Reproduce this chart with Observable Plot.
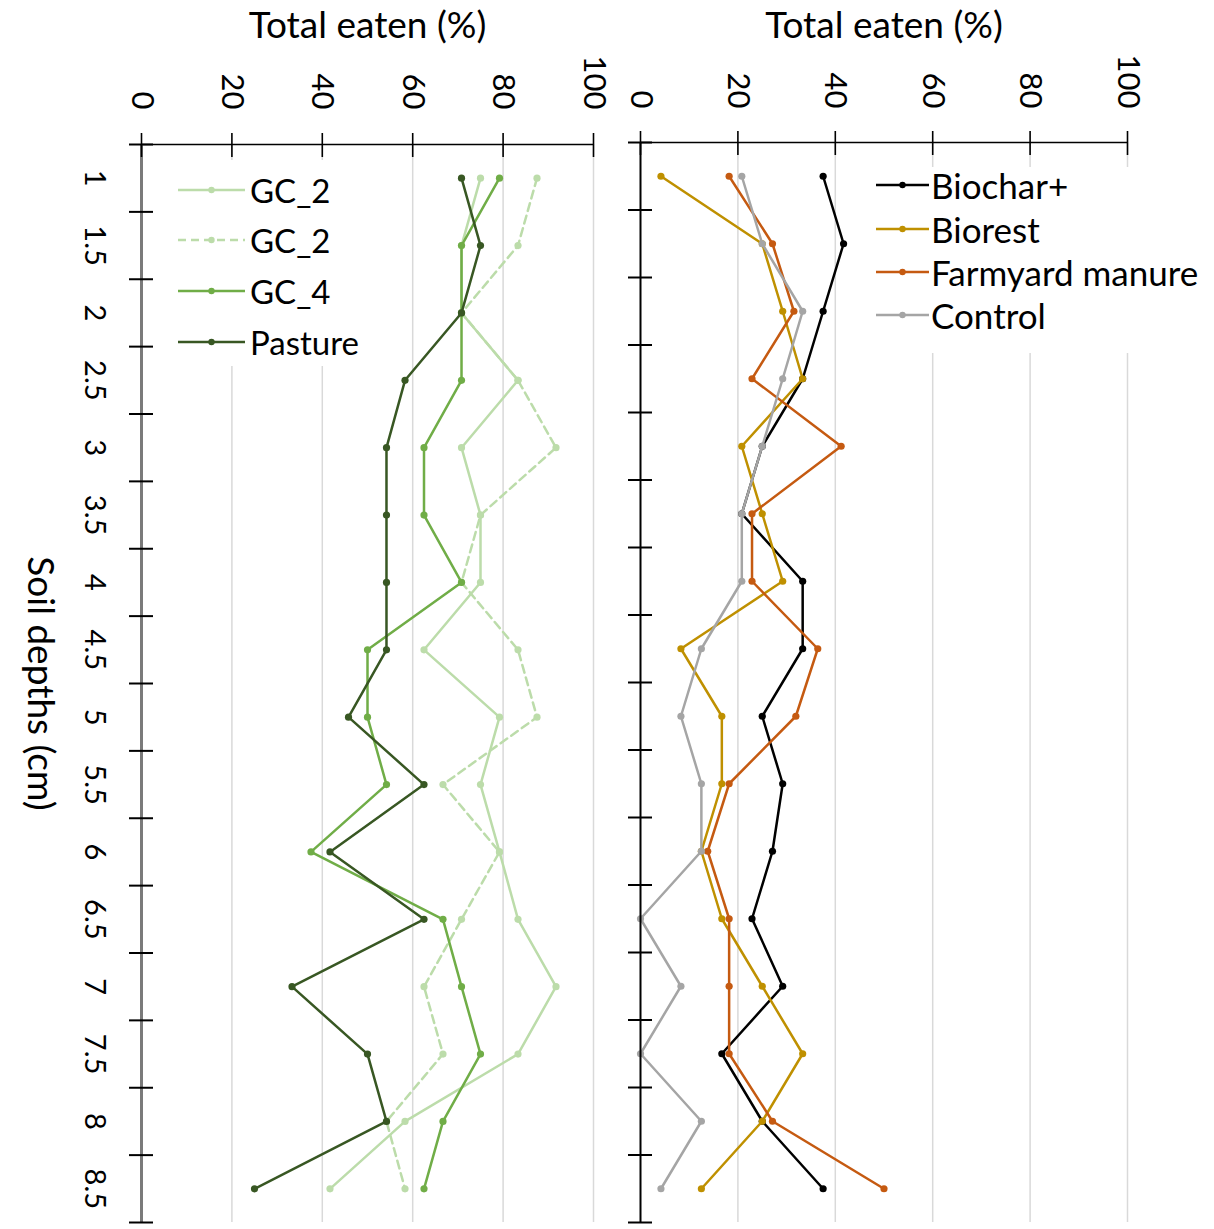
<!DOCTYPE html>
<html>
<head>
<meta charset="utf-8">
<script src="https://cdn.jsdelivr.net/npm/d3@7"></script>
<script src="https://cdn.jsdelivr.net/npm/@observablehq/plot@0.6"></script>
<style>
  body { margin: 0; background: #fff; font-family: Lato, "Open Sans", sans-serif; }
  #wrap { position: relative; width: 1214px; height: 1229px; overflow: hidden; background: #fff; }
  .panel { position: absolute; top: 0; }
  .legend { position: absolute; background: #fff; }
  .item { position: absolute; display: flex; align-items: center; white-space: nowrap; color: #000; }
  .item svg { display: block; }
</style>
</head>
<body>
<div id="wrap"></div>
<script>
// ---------- data ----------
const depths = [1, 1.5, 2, 2.5, 3, 3.5, 4, 4.5, 5, 5.5, 6, 6.5, 7, 7.5, 8, 8.5];
const xTicks = [0, 20, 40, 60, 80, 100];
const xTitle = "Total eaten (%)";
const yTitle = "Soil depths (cm)";

// left panel series
const leftNames = ["GC_2", "GC_2", "GC_4", "Pasture"];
const gc2Solid  = [75, 70.8, 70.8, 83.3, 70.8, 75, 75, 62.5, 79.2, 75, 79.2, 83.3, 91.7, 83.3, 58.3, 41.7];
const gc2Dashed = [87.5, 83.3, 70.8, 83.3, 91.7, 75, 70.8, 83.3, 87.5, 66.7, 79.2, 70.8, 62.5, 66.7, 54.2, 58.3];
const gc4       = [79.2, 70.8, 70.8, 70.8, 62.5, 62.5, 70.8, 50, 50, 54.2, 37.5, 66.7, 70.8, 75, 66.7, 62.5];
const pasture   = [70.8, 75, 70.8, 58.3, 54.2, 54.2, 54.2, 54.2, 45.8, 62.5, 41.7, 62.5, 33.3, 50, 54.2, 25];
const leftValues = [gc2Solid, gc2Dashed, gc4, pasture];

// right panel series
const rightNames = ["Biochar+", "Biorest", "Farmyard manure", "Control"];
const biochar  = [37.5, 41.7, 37.5, 33.3, 25, 20.8, 33.3, 33.3, 25, 29.2, 27.1, 22.9, 29.2, 16.7, 25, 37.5];
const biorest  = [4.2, 25, 29.2, 33.3, 20.8, 25, 29.2, 8.3, 16.7, 16.7, 12.5, 16.7, 25, 33.3, 25, 12.5];
const farmyard = [18.2, 27.1, 31.5, 22.9, 41.2, 22.9, 22.9, 36.4, 31.9, 18.2, 13.8, 18.2, 18.2, 18.2, 27.1, 50];
const control  = [20.8, 25, 33.3, 29.2, 25, 20.8, 20.8, 12.5, 8.3, 12.5, 12.5, 0, 8.3, 0, 12.5, 4.2];
const rightValues = [biochar, biorest, farmyard, control];

// ---------- styles ----------
const leftColors = ["#bcdcaa", "#bcdcaa", "#70ad47", "#385723"];
const leftDashes = [null, "8,5", null, null];
const rightColors = ["#000000", "#bf9000", "#c55a11", "#a5a5a5"];
const rightDashes = [null, null, null, null];

// ---------- derived ----------
const step = depths[1] - depths[0];
const yDomain = [depths[0] - step / 2, depths[depths.length - 1] + step / 2];
const yBounds = d3.range(depths.length + 1).map(i => yDomain[0] + i * step);

function toRows(valuesList) {
  return valuesList.flatMap((vals, s) => vals.map((v, j) => ({s, depth: depths[j], value: v})));
}

function panel({rows, colors, dashes, width, marginLeft, marginRight, marginTop, withYLabels, axisColor, axisWidth, tickDy, titleDy}) {
  const seriesMarks = colors.flatMap((c, i) => {
    const d = rows.filter(r => r.s === i);
    return [
      Plot.line(d, {x: "value", y: "depth", stroke: c, strokeWidth: 2.5, strokeDasharray: dashes[i] ?? undefined}),
      Plot.dot(d, {x: "value", y: "depth", r: 3.6, fill: c, stroke: "none"})
    ];
  });
  return Plot.plot({
    width, height: 1229,
    marginLeft, marginRight, marginTop, marginBottom: 7,
    style: {background: "transparent", overflow: "visible", fontFamily: "Lato, 'Open Sans', sans-serif", color: "#000"},
    x: {domain: [xTicks[0], xTicks[xTicks.length - 1]], axis: null},
    y: {domain: yDomain, reverse: true, axis: null},
    marks: [
      Plot.gridX({ticks: xTicks.slice(1), stroke: "#d9d9d9", strokeOpacity: 1, strokeWidth: 1.5}),
      ...seriesMarks,
      Plot.ruleY([yDomain[0]], {stroke: "#000", strokeWidth: 1.5}),
      Plot.ruleX([xTicks[0]], {stroke: axisColor, strokeWidth: axisWidth}),
      Plot.axisX({anchor: "top", ticks: xTicks, tickSize: 24, dy: 12, fill: "none", stroke: "#000", strokeWidth: 1.6, label: null}),
      Plot.axisY({anchor: "left", ticks: yBounds, tickSize: 24, dx: 12, fill: "none", stroke: "#000", strokeWidth: 2, label: null}),
      Plot.text(xTicks, {x: d => d, text: d => String(d), frameAnchor: "top", rotate: 90, textAnchor: "end", lineAnchor: "middle", dy: tickDy, fontSize: 31, fill: "#000"}),
      Plot.text([xTitle], {frameAnchor: "top", textAnchor: "middle", lineAnchor: "middle", dy: titleDy, fontSize: 37, fill: "#000"}),
      ...(withYLabels ? [
        Plot.text(depths, {y: d => d, text: d => String(d), frameAnchor: "left", rotate: 90, textAnchor: "middle", lineAnchor: "middle", dx: -47, fontSize: 29, fill: "#000"}),
        Plot.text([yTitle], {frameAnchor: "left", rotate: 90, textAnchor: "middle", lineAnchor: "middle", dx: -102, fontSize: 37, fill: "#000"})
      ] : [])
    ]
  });
}

const wrap = document.getElementById("wrap");

const left = panel({
  rows: toRows(leftValues), colors: leftColors, dashes: leftDashes,
  width: 615, marginLeft: 141, marginRight: 22, marginTop: 144,
  withYLabels: true, axisColor: "#7a7a7a", axisWidth: 3, tickDy: -35, titleDy: -118
});
left.classList.add("panel");
left.style.left = "0px";
wrap.appendChild(left);

const right = panel({
  rows: toRows(rightValues), colors: rightColors, dashes: rightDashes,
  width: 599, marginLeft: 25, marginRight: 87, marginTop: 142,
  withYLabels: false, axisColor: "#000", axisWidth: 2, tickDy: -34, titleDy: -116
});
right.classList.add("panel");
right.style.left = "615px";
wrap.appendChild(right);

// ---------- legends (HTML) ----------
function legend({names, colors, dashes, box, sampleX, sampleW, textX, centers, fontSize}) {
  const lg = document.createElement("div");
  lg.className = "legend";
  Object.assign(lg.style, {left: box[0] + "px", top: box[1] + "px", width: box[2] + "px", height: box[3] + "px"});
  wrap.appendChild(lg);
  names.forEach((name, i) => {
    const it = document.createElement("div");
    it.className = "item";
    const h = 40;
    Object.assign(it.style, {left: sampleX + "px", top: (centers[i] - h / 2) + "px", height: h + "px", fontSize: fontSize + "px"});
    const svg = d3.create("svg").attr("width", textX - sampleX).attr("height", h);
    svg.append("line").attr("x1", 0).attr("x2", sampleW).attr("y1", h / 2).attr("y2", h / 2)
      .attr("stroke", colors[i]).attr("stroke-width", 2.5).attr("stroke-dasharray", dashes[i]);
    svg.append("circle").attr("cx", sampleW / 2).attr("cy", h / 2).attr("r", 3.2).attr("fill", colors[i]);
    it.appendChild(svg.node());
    const span = document.createElement("span");
    span.textContent = name;
    it.appendChild(span);
    wrap.appendChild(it);
  });
}

legend({names: leftNames, colors: leftColors, dashes: leftDashes,
  box: [158, 160, 222, 206], sampleX: 178, sampleW: 67, textX: 250,
  centers: [190, 240, 291, 342], fontSize: 33});
legend({names: rightNames, colors: rightColors, dashes: rightDashes,
  box: [862, 167, 352, 186], sampleX: 876, sampleW: 53, textX: 931,
  centers: [185, 229, 272, 315], fontSize: 35});
</script>
</body>
</html>
